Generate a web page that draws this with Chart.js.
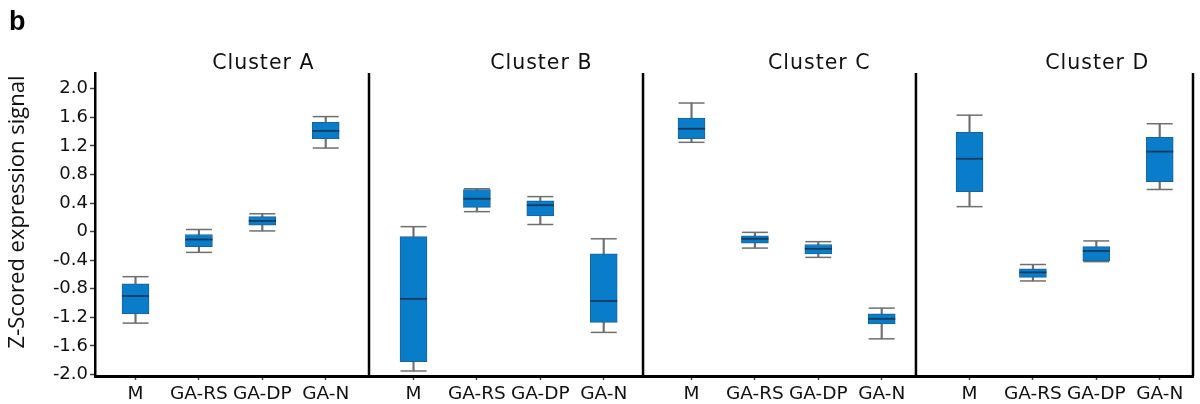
<!DOCTYPE html>
<html>
<head>
<meta charset="utf-8">
<script src="https://cdn.jsdelivr.net/npm/chart.js@4/dist/chart.umd.min.js"></script>
<style>
  body { margin: 0; background: #fff; }
  canvas { display: block; }
</style>
</head>
<body>
<canvas id="chart-canvas" width="1200" height="404"></canvas>
<script>
// data, cluster-major: A(M, GA-RS, GA-DP, GA-N), B(...), C(...), D(...)
const clusters = ['Cluster A', 'Cluster B', 'Cluster C', 'Cluster D']
const groups = ['M', 'GA-RS', 'GA-DP', 'GA-N']
const whiskerHigh = [-0.63, 0.03, 0.25, 1.61,   0.07, 0.60, 0.49, -0.10,   1.80, -0.01, -0.14, -1.07,   1.63, -0.46, -0.13, 1.51]
const q3 =          [-0.73, -0.04, 0.21, 1.53,  -0.07, 0.59, 0.43, -0.31,   1.59, -0.06, -0.18, -1.15,   1.39, -0.52, -0.21, 1.32]
const median =      [-0.90, -0.11, 0.15, 1.41,  -0.94, 0.46, 0.37, -0.97,   1.44, -0.10, -0.24, -1.22,   1.02, -0.57, -0.27, 1.12]
const q1 =          [-1.15, -0.21, 0.09, 1.30,  -1.82, 0.34, 0.22, -1.27,   1.30, -0.16, -0.31, -1.29,   0.56, -0.64, -0.41, 0.70]
const whiskerLow =  [-1.28, -0.29, 0.01, 1.17,  -1.95, 0.28, 0.10, -1.41,   1.25, -0.23, -0.36, -1.50,   0.35, -0.69, -0.42, 0.59]
const yTicks = [-2.0, -1.6, -1.2, -0.8, -0.4, 0, 0.4, 0.8, 1.2, 1.6, 2.0]

// layout
const panelStep = 4.385
const xPos = whiskerHigh.map((_, i) => Math.floor(i / 4) * panelStep + i % 4)
const panelEdges = [3.683, 8.005, 12.31, 16.68]
const sans = 'DejaVu Sans'

const boxes = xPos.map((x, i) => ({ x: x, y: [q1[i], q3[i]] }))
const whiskers = xPos.map((x, i) => ({ x: x, y: [whiskerLow[i], whiskerHigh[i]] }))
const caps = xPos.flatMap((x, i) => [{ x: x, y: whiskerLow[i] }, { x: x, y: whiskerHigh[i] }])
const medians = xPos.map((x, i) => ({ x: x, y: median[i] }))

const panels = {
    id: 'panels',
    afterDatasetsDraw(chart) {
        const c = chart.ctx
        const xs = chart.scales.x
        const area = chart.chartArea
        c.save()
        c.strokeStyle = '#000'
        c.lineWidth = 2.5
        panelEdges.forEach((e) => {
            const px = xs.getPixelForValue(e)
            c.beginPath()
            c.moveTo(px, area.top)
            c.lineTo(px, area.bottom)
            c.stroke()
        })
        c.fillStyle = '#111'
        c.textAlign = 'center'
        c.textBaseline = 'alphabetic'
        c.font = '20.5px "' + sans + '"'
        c.letterSpacing = '1px'
        clusters.forEach((name, k) => {
            c.fillText(name, xs.getPixelForValue(xPos[k * 4 + 2]) + 1, 69)
        })
        c.letterSpacing = '0px'
        c.save()
        c.translate(18, 212)
        c.rotate(-Math.PI / 2)
        c.textBaseline = 'middle'
        c.font = '22px "Open Sans"'
        c.fillText('Z-Scored expression signal', 0, 0)
        c.restore()
        c.textAlign = 'left'
        c.font = 'bold 27px "Liberation Sans"'
        c.fillStyle = '#000'
        c.fillText('b', 9, 30)
        c.restore()
    }
}

new Chart(document.getElementById('chart-canvas'), {
    type: 'bar',
    data: {
        datasets: [
            {
                data: whiskers, grouped: false, order: 4,
                barThickness: 1.5, backgroundColor: '#6f6f6f', borderWidth: 0
            },
            {
                type: 'scatter', data: caps, order: 3,
                pointStyle: 'line', pointRadius: 13, pointHoverRadius: 13,
                borderColor: '#6f6f6f', pointBorderColor: '#6f6f6f', pointBorderWidth: 1.5, borderWidth: 1.5
            },
            {
                data: boxes, grouped: false, order: 2,
                barThickness: 27, backgroundColor: '#0a7dca',
                borderColor: '#1b6398', borderWidth: 1, borderSkipped: false
            },
            {
                type: 'scatter', data: medians, order: 1,
                pointStyle: 'line', pointRadius: 13.5, pointHoverRadius: 13.5,
                borderColor: '#163a5c', pointBorderColor: '#163a5c', pointBorderWidth: 1.8, borderWidth: 1.8
            }
        ]
    },
    options: {
        responsive: false,
        animation: false,
        layout: { autoPadding: false, padding: { top: 73, right: 7, left: 0, bottom: 0 } },
        plugins: { legend: { display: false }, tooltip: { enabled: false } },
        scales: {
            x: {
                type: 'linear', min: -0.639, max: 16.68, offset: false,
                afterBuildTicks: (s) => { s.ticks = xPos.map((v) => ({ value: v })) },
                afterFit: (s) => { s.height = 28; s.paddingLeft = 0; s.paddingRight = 0 },
                ticks: {
                    callback: (v, i) => groups[i % 4], autoSkip: false, maxRotation: 0,
                    color: '#111', padding: 3, font: { family: sans, size: 18.5 }
                },
                grid: { drawOnChartArea: false, offset: false, tickLength: 4, tickWidth: 1.5, tickColor: '#444' },
                border: { color: '#000', width: 3 }
            },
            y: {
                min: -2.02, max: 2.22,
                afterBuildTicks: (s) => { s.ticks = yTicks.map((v) => ({ value: v })) },
                afterFit: (s) => { s.width = 95 },
                ticks: {
                    callback: (v) => v === 0 ? '0' : v.toFixed(1),
                    color: '#111', padding: 2, font: { family: sans, size: 18 }
                },
                grid: { drawOnChartArea: false, tickLength: 5, tickWidth: 1.5, tickColor: '#444' },
                border: { color: '#000', width: 2.5 }
            }
        }
    },
    plugins: [panels]
})
</script>
</body>
</html>
